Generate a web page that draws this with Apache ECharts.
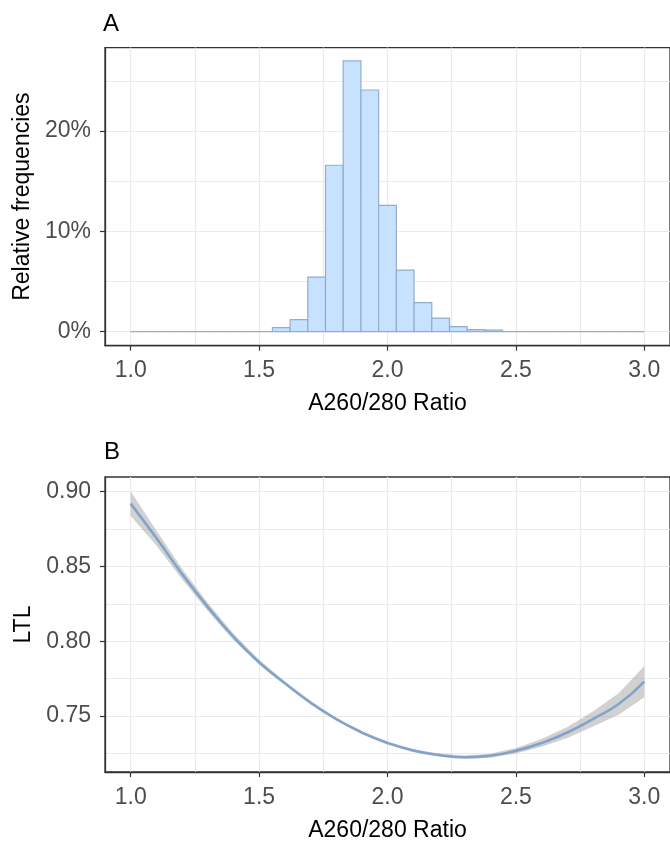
<!DOCTYPE html>
<html>
<head>
<meta charset="utf-8">
<script src="https://cdn.jsdelivr.net/npm/echarts@6/dist/echarts.min.js"></script>
<style>
  html, body { margin: 0; padding: 0; background: #fff; }
  #main { width: 670px; height: 843px; }
</style>
</head>
<body>
<div id="main"></div>
<script>
// histogram (panel A): 29 bins between binMin and binMax, relative frequency in %
var binMin = 1.0
var binMax = 3.0
var relFreq = [0, 0, 0, 0, 0, 0, 0, 0, 0.4, 1.2, 5.45, 16.6, 27.0, 24.1, 12.6,
  6.15, 2.9, 1.36, 0.5, 0.2, 0.15, 0, 0, 0, 0, 0, 0, 0, 0]

// smoothed LTL curve (panel B) with its confidence band
var ratioX = [1.0, 1.1, 1.2, 1.3, 1.4, 1.5, 1.6, 1.7, 1.8, 1.9, 2.0, 2.1, 2.2, 2.3, 2.4, 2.5, 2.6, 2.7, 2.8, 2.9, 3.0]
var ltlFit = [0.892, 0.869, 0.845, 0.823, 0.803, 0.786, 0.772, 0.759, 0.748, 0.739, 0.732,
  0.727, 0.724, 0.7225, 0.7235, 0.7268, 0.732, 0.739, 0.748, 0.758, 0.773]
var ltlLower = [0.8837, 0.864, 0.8415, 0.8202, 0.8008, 0.7844, 0.7707, 0.7578, 0.7469, 0.738, 0.731,
  0.726, 0.723, 0.7214, 0.7222, 0.725, 0.7294, 0.7354, 0.743, 0.7508, 0.7626]
var ltlUpper = [0.9003, 0.874, 0.8485, 0.8258, 0.8052, 0.7876, 0.7733, 0.7602, 0.7491, 0.74, 0.733,
  0.728, 0.725, 0.7236, 0.7248, 0.7286, 0.7346, 0.7426, 0.753, 0.7652, 0.7834]

// axis ticks
var xTicks = [1.0, 1.5, 2.0, 2.5, 3.0]
var yTicksA = [0, 10, 20]
var yTicksB = [0.75, 0.80, 0.85, 0.90]

var FONT = 'Liberation Sans, Arial, sans-serif'
var BAR_FILL = '#C6E2FF'
var BAR_LINE = '#93ADCB'
var LINE_COLOR = '#7FA3CB'

var binWidth = (binMax - binMin) / relFreq.length
var histData = relFreq.map(function (f, i) {
  return [binMin + i * binWidth, binMin + (i + 1) * binWidth, f]
})
var fitData = ratioX.map(function (x, i) { return [x, ltlFit[i]] })
var bandData = ratioX.map(function (x, i) { return [x, ltlLower[i], ltlUpper[i]] })

function xAxisFor (gridIndex) {
  return {
    gridIndex: gridIndex,
    type: 'value',
    min: 0.9,
    max: 3.1,
    minInterval: 0.5,
    maxInterval: 0.5,
    name: 'A260/280 Ratio',
    nameLocation: 'middle',
    nameGap: 47,
    nameTextStyle: { color: '#000', fontSize: 23, fontFamily: FONT },
    axisLine: { show: true, onZero: false, lineStyle: { color: '#333', width: 1.3 } },
    axisTick: { show: true, length: 5, customValues: xTicks, lineStyle: { color: '#333', width: 1.2 } },
    axisLabel: {
      customValues: xTicks,
      margin: 14,
      color: '#4D4D4D',
      fontSize: 23,
      fontFamily: FONT,
      formatter: function (v) { return v.toFixed(1) }
    },
    splitLine: { show: true, lineStyle: { color: '#EBEBEB', width: 1.2 } },
    minorTick: { show: false, splitNumber: 2 },
    minorSplitLine: { show: true, lineStyle: { color: '#EBEBEB', width: 1.2 } }
  }
}

function yAxisFor (gridIndex, min, max, step, ticks, name, fmt) {
  return {
    gridIndex: gridIndex,
    type: 'value',
    min: min,
    max: max,
    minInterval: step,
    maxInterval: step,
    name: name,
    nameLocation: 'middle',
    nameGap: 61,
    nameTextStyle: { color: '#000', fontSize: 23, fontFamily: FONT },
    axisLine: { show: true, onZero: false, lineStyle: { color: '#333', width: 1.3 } },
    axisTick: { show: true, length: 5, customValues: ticks, lineStyle: { color: '#333', width: 1.2 } },
    axisLabel: {
      customValues: ticks,
      margin: 14,
      color: '#4D4D4D',
      fontSize: 23,
      fontFamily: FONT,
      formatter: fmt
    },
    splitLine: { show: true, lineStyle: { color: '#EBEBEB', width: 1.2 } },
    minorTick: { show: false, splitNumber: 2 },
    minorSplitLine: { show: true, lineStyle: { color: '#EBEBEB', width: 1.2 } }
  }
}

var chart = echarts.init(document.getElementById('main'), null, { renderer: 'canvas' })

var option = {
  backgroundColor: '#fff',
  animation: false,
  title: [
    { text: 'A', left: 103, top: 12, padding: 0, textStyle: { fontSize: 24, fontWeight: 'normal', color: '#000', fontFamily: FONT } },
    { text: 'B', left: 104, top: 440, padding: 0, textStyle: { fontSize: 24, fontWeight: 'normal', color: '#000', fontFamily: FONT } }
  ],
  grid: [
    { left: 105, top: 47.6, width: 569, height: 298, show: true, backgroundColor: '#fff', borderColor: '#333', borderWidth: 1.3 },
    { left: 105, top: 477, width: 569, height: 297, show: true, backgroundColor: '#fff', borderColor: '#333', borderWidth: 1.3 }
  ],
  xAxis: [xAxisFor(0), xAxisFor(1)],
  yAxis: [
    yAxisFor(0, -1.386, 28.33, 10, yTicksA, 'Relative frequencies', function (v) { return Math.round(v) + '%' }),
    yAxisFor(1, 0.7126, 0.9098, 0.05, yTicksB, 'LTL', function (v) { return v.toFixed(2) })
  ],
  series: [
    {
      type: 'custom',
      xAxisIndex: 0,
      yAxisIndex: 0,
      data: histData,
      encode: { x: [0, 1], y: 2 },
      renderItem: function (params, api) {
        var p0 = api.coord([api.value(0), 0])
        var p1 = api.coord([api.value(1), api.value(2)])
        return {
          type: 'rect',
          shape: { x: p0[0], y: p1[1], width: p1[0] - p0[0], height: p0[1] - p1[1] },
          style: { fill: BAR_FILL, stroke: BAR_LINE, lineWidth: 1.2 }
        }
      },
      z: 3
    },
    {
      // confidence ribbon drawn as one polygon
      type: 'custom',
      xAxisIndex: 1,
      yAxisIndex: 1,
      data: bandData,
      encode: { x: 0, y: [1, 2] },
      renderItem: function (params, api) {
        if (params.dataIndex !== 0) return
        var pts = []
        var i
        for (i = 0; i < ratioX.length; i++) pts.push(api.coord([ratioX[i], ltlUpper[i]]))
        for (i = ratioX.length - 1; i >= 0; i--) pts.push(api.coord([ratioX[i], ltlLower[i]]))
        return {
          type: 'polygon',
          shape: { points: pts },
          style: { fill: 'rgba(153,153,153,0.45)' }
        }
      },
      z: 2
    },
    {
      type: 'line',
      xAxisIndex: 1,
      yAxisIndex: 1,
      data: fitData,
      showSymbol: false,
      smooth: true,
      lineStyle: { color: LINE_COLOR, width: 2.5 },
      z: 3
    }
  ]
}

chart.setOption(option)
</script>
</body>
</html>
